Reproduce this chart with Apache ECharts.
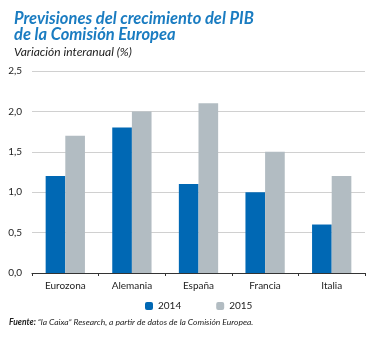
<!DOCTYPE html>
<html><head><meta charset="utf-8">
<script src="https://cdn.jsdelivr.net/npm/echarts@6/dist/echarts.min.js"></script>
<style>html,body{margin:0;padding:0;background:#fff}#c{width:373px;height:338px}</style>
</head><body><div id="c"></div>
<script>
const categories = ['Eurozona', 'Alemania', 'España', 'Francia', 'Italia'];
const values2014 = [1.2, 1.8, 1.1, 1.0, 0.6];
const values2015 = [1.7, 2.0, 2.1, 1.5, 1.2];
const yTicks = [0, 0.5, 1.0, 1.5, 2.0, 2.5];
const font = 'Lato, "Open Sans", sans-serif';
const chart = echarts.init(document.getElementById('c'));
chart.setOption({
  animation: false,
  title: {
    text: 'Previsiones del crecimiento del PIB\nde la Comisión Europea',
    subtext: 'Variación interanual (%)',
    left: 9, top: 6, itemGap: 2,
    textStyle: {color: '#1a7cc1', fontFamily: font, fontStyle: 'italic', fontWeight: 'bold', fontSize: 16.5, lineHeight: 16},
    subtextStyle: {color: '#222', fontFamily: font, fontStyle: 'italic', fontSize: 12}
  },
  legend: {
    top: 296, left: 140, itemWidth: 8, itemHeight: 8, itemGap: 35,
    textStyle: {fontFamily: font, fontSize: 10, color: '#222'},
    data: ['2014', '2015']
  },
  grid: {left: 32, right: 8, top: 71, bottom: 65},
  xAxis: {
    type: 'category', data: categories,
    axisLine: {lineStyle: {color: '#333', width: 1}},
    axisTick: {show: true, length: 3, lineStyle: {color: '#333'}},
    axisLabel: {fontFamily: font, fontSize: 10, color: '#222', margin: 8}
  },
  yAxis: {
    type: 'value', min: 0, max: 2.5, interval: 0.5,
    axisLine: {show: false}, axisTick: {show: false},
    splitLine: {lineStyle: {color: '#d0d0d0', width: 1}},
    axisLabel: {fontFamily: font, fontSize: 10, color: '#222', margin: 10,
      formatter: v => v.toFixed(1).replace('.', ',')}
  },
  series: [
    {name: '2014', type: 'bar', data: values2014, barGap: '0%', barCategoryGap: '41%', itemStyle: {color: '#0068b4'}},
    {name: '2015', type: 'bar', data: values2015, itemStyle: {color: '#b2bcc2'}}
  ],
  graphic: [{
    type: 'text', left: 9, top: 318,
    style: {
      text: '{b|Fuente:} “la Caixa” Research, a partir de datos de la Comisión Europea.',
      fontFamily: font, fontStyle: 'italic', fontSize: 8.5, fill: '#222',
      rich: {b: {fontWeight: 'bold', fontStyle: 'italic', fontFamily: font, fontSize: 8.5, fill: '#222'}}
    }
  }]
});
</script></body></html>
